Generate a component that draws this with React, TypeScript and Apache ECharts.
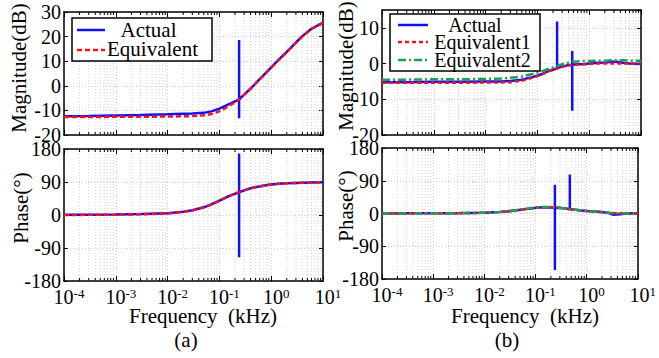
import React, { useEffect, useRef } from "react";
import * as echarts from "echarts";

const FONT = "Liberation Serif";

// ---------- data (kHz, dB, degrees) ----------
// (a) Actual, magnitude, including the spike at 0.24 kHz
const freqActA = [1e-4, 3e-4, 1e-3, 3e-3, 0.01, 0.02, 0.03, 0.05, 0.07, 0.1, 0.13, 0.17, 0.24, 0.24, 0.24, 0.24, 0.3, 0.4, 0.55, 0.7, 1, 1.4, 2, 3, 4, 6, 10];
const magActA = [-12.4, -12.3, -12.1, -11.9, -11.6, -11.4, -11.3, -11.0, -10.4, -9.3, -8.2, -7.0, -5.5, 18.6, -13.2, -5.5, -3.6, -1.1, 1.9, 4.1, 7.5, 10.6, 13.8, 17.6, 20.2, 23.2, 25.7];
const phActA = [0.4, 0.8, 1.5, 2.5, 4.6, 9, 13, 21, 29, 39, 47, 54, 62, 168, -115, 62, 67, 73, 77, 80, 83, 85, 86.5, 87.5, 88, 88.5, 89];

// (a) Equivalent
const freqEqA = [1e-4, 3e-4, 1e-3, 3e-3, 0.01, 0.02, 0.03, 0.05, 0.07, 0.1, 0.13, 0.17, 0.24, 0.3, 0.4, 0.55, 0.7, 1, 1.4, 2, 3, 4, 6, 10];
const magEqA = [-12.7, -12.7, -12.6, -12.6, -12.5, -12.4, -12.3, -12.0, -11.5, -10.4, -9.1, -7.6, -5.7, -3.7, -1.2, 1.8, 4.0, 7.4, 10.5, 13.7, 17.5, 20.1, 23.1, 25.6];
const phEqA = [0, 0.5, 1, 2, 4, 8.5, 12.5, 20.5, 28.5, 38.5, 46.5, 54, 62, 67, 73, 77, 80, 83, 85, 86.5, 87.5, 88, 88.5, 89];

// (b) Actual, with spikes at 0.24 kHz and 0.47 kHz
const freqActBMag = [1e-4, 3e-4, 1e-3, 3e-3, 0.01, 0.02, 0.03, 0.05, 0.08, 0.12, 0.17, 0.24, 0.24, 0.24, 0.3, 0.38, 0.47, 0.47, 0.47, 0.47, 0.6, 0.8, 1, 1.5, 2, 2.7, 3.4, 4.5, 6, 10];
const magActB = [-5.2, -5.2, -5.1, -5.1, -5.0, -5.0, -4.9, -4.5, -3.8, -3.0, -2.0, -1.3, 11.8, -1.3, -0.8, -0.5, -0.3, 3.5, -13.2, -0.3, -0.2, -0.1, 0, 0.2, 0.3, 0.5, 0.5, 0.2, 0, -0.1];
const freqActBPh = [1e-4, 3e-4, 1e-3, 3e-3, 0.01, 0.02, 0.03, 0.05, 0.08, 0.12, 0.17, 0.24, 0.24, 0.24, 0.24, 0.3, 0.38, 0.47, 0.47, 0.47, 0.6, 0.8, 1, 1.5, 2, 2.7, 3.4, 4.5, 6, 10];
const phActB = [0.3, 0.4, 0.6, 1, 2, 4, 6, 10, 14, 16.5, 17.5, 16, 79, -155, 16, 15, 13.5, 12, 107, 12, 10.5, 8.5, 7, 5.5, 4, 1, -3.5, -2, 0, 0.5];

// (b) Equivalent1 / Equivalent2
const freqEqB = [1e-4, 3e-4, 1e-3, 3e-3, 0.01, 0.02, 0.03, 0.05, 0.08, 0.12, 0.17, 0.24, 0.3, 0.38, 0.47, 0.6, 0.8, 1, 1.5, 2, 2.7, 3.4, 4.5, 6, 10];
const magEq1B = [-5.4, -5.4, -5.4, -5.4, -5.3, -5.3, -5.2, -4.8, -4.0, -3.1, -2.1, -1.4, -0.9, -0.6, -0.4, -0.3, -0.2, -0.1, 0, 0, 0, 0, 0, 0, 0];
const magEq2B = [-4.5, -4.5, -4.4, -4.4, -4.3, -4.2, -4.0, -3.6, -2.9, -2.2, -1.4, -0.7, -0.2, 0.2, 0.5, 0.6, 0.7, 0.7, 0.8, 0.8, 0.9, 0.9, 0.9, 0.8, 0.8];
const phEq1B = [0, 0.2, 0.5, 1, 2, 4, 6, 10, 14, 17, 18, 17, 15.5, 13.5, 12, 10.5, 8.5, 7, 5, 3.5, 2, 1, 0.5, 0.3, 0];
const phEq2B = [0, 0.2, 0.5, 1, 2, 4, 6.5, 10.5, 14.5, 17.5, 18, 17, 15.5, 13.5, 12, 10.5, 8.5, 7, 5, 3.5, 2, 1, 0.5, 0.3, 0];

// axis ticks
const decades = [1e-4, 1e-3, 1e-2, 1e-1, 1, 10];
const minorMultipliers = [2, 3, 4, 5, 6, 7, 8, 9];
const magTicksA = [-20, -10, 0, 10, 20, 30];
const magTicksB = [-20, -10, 0, 10];
const phaseTicks = [-180, -90, 0, 90, 180];

const legendA = ["Actual", "Equivalent"];
const legendB = ["Actual", "Equivalent1", "Equivalent2"];

const BLUE = "#1010ff";
const RED = "#ff1010";
const GREEN = "#1fa050";
const LW = 2.5;

const zip = (xs: number[], ys: number[]) => xs.map((x, i) => [x, ys[i]]);

export default function App() {
  const ref = useRef<HTMLDivElement>(null);
  useEffect(() => {
    if (!ref.current) return;
    const chart = echarts.init(ref.current, undefined, { renderer: "svg" });

    const minorFreqs: number[] = [];
    decades.slice(0, -1).forEach((d) => minorMultipliers.forEach((m) => minorFreqs.push(+(d * m).toPrecision(3))));

    const grids = [
      { left: 64, top: 12, width: 259, height: 123, ticks: magTicksA, interval: 10, xLabels: false },
      { left: 382, top: 10, width: 259, height: 125, ticks: magTicksB, max: 15, interval: 10, xLabels: false },
      { left: 64, top: 149, width: 259, height: 132, ticks: phaseTicks, interval: 90, xLabels: true },
      { left: 382, top: 148, width: 259, height: 131, ticks: phaseTicks, interval: 90, xLabels: true },
    ];

    const xAxes: any[] = [];
    const yAxes: any[] = [];
    const series: any[] = [];

    grids.forEach((g: any, i) => {
      const ymin = g.ticks[0];
      const ymax = g.max ?? g.ticks[g.ticks.length - 1];
      const xBase = {
        type: "log",
        logBase: 10,
        min: decades[0],
        max: decades[decades.length - 1],
        gridIndex: i,
        axisLine: { show: true, onZero: false, lineStyle: { color: "#000", width: 1.5 } },
        axisTick: { show: true, inside: true, length: 5, lineStyle: { color: "#000", width: 1 } },
      };
      xAxes.push({
        ...xBase,
        position: "bottom",
        splitLine: { show: true, lineStyle: { color: "#cfcfcf", type: [1, 2], width: 1 } },
        axisLabel: {
          show: g.xLabels,
          margin: 6,
          padding: [0, 0, 0, 10],
          formatter: (v: number) => `{b|10}{s|${Math.round(Math.log10(v))}}`,
          rich: {
            b: { fontSize: 20, fontFamily: FONT, color: "#000" },
            s: { fontSize: 13, fontFamily: FONT, color: "#000", verticalAlign: "top" },
          },
        },
      });
      xAxes.push({ ...xBase, position: "top", splitLine: { show: false }, axisLabel: { show: false } });
      const yBase = {
        type: "value",
        min: ymin,
        max: ymax,
        interval: g.interval,
        gridIndex: i,
        axisLine: { show: true, onZero: false, lineStyle: { color: "#000", width: 1.5 } },
        axisTick: { show: true, inside: true, length: 4, lineStyle: { color: "#000", width: 1 } },
      };
      yAxes.push({
        ...yBase,
        position: "left",
        splitLine: { show: true, lineStyle: { color: "#cfcfcf", type: [1, 2], width: 1 } },
        axisLabel: { show: true, margin: 3, fontSize: 20, fontFamily: FONT, color: "#000", showMaxLabel: g.max == null },
      });
      yAxes.push({ ...yBase, position: "right", splitLine: { show: false }, axisLabel: { show: false } });

      series.push({
        type: "custom",
        xAxisIndex: 2 * i,
        yAxisIndex: 2 * i,
        silent: true,
        data: minorFreqs.map((f) => [f, ymin]),
        encode: { x: 0, y: 1 },
        renderItem: (_p: any, api: any) => {
          const f = api.value(0);
          const pb = api.coord([f, ymin]);
          const pt = api.coord([f, ymax]);
          return {
            type: "group",
            children: [
              { type: "line", shape: { x1: pb[0], y1: pb[1], x2: pt[0], y2: pt[1] }, style: { stroke: "#d4d4d4", lineWidth: 1, lineDash: [1, 2] } },
              { type: "line", shape: { x1: pb[0], y1: pb[1], x2: pb[0], y2: pb[1] - 3 }, style: { stroke: "#000", lineWidth: 1 } },
              { type: "line", shape: { x1: pt[0], y1: pt[1], x2: pt[0], y2: pt[1] + 3 }, style: { stroke: "#000", lineWidth: 1 } },
            ],
          };
        },
      });
    });

    const line = (name: string, grid: number, data: number[][], color: string, type: any) => ({
      name,
      type: "line",
      xAxisIndex: 2 * grid,
      yAxisIndex: 2 * grid,
      data,
      showSymbol: false,
      symbol: "none",
      lineStyle: { color, width: LW, type },
      z: 3,
    });

    series.push(line("Actual", 0, zip(freqActA, magActA), BLUE, "solid"));
    series.push(line("Equivalent", 0, zip(freqEqA, magEqA), RED, [5, 3]));
    series.push(line("Actual", 2, zip(freqActA, phActA), BLUE, "solid"));
    series.push(line("Equivalent", 2, zip(freqEqA, phEqA), RED, [5, 3]));
    series.push(line("Actual", 1, zip(freqActBMag, magActB), BLUE, "solid"));
    series.push(line("Equivalent1", 1, zip(freqEqB, magEq1B), RED, [4, 3]));
    series.push(line("Equivalent2", 1, zip(freqEqB, magEq2B), GREEN, [8, 3, 2, 3]));
    series.push(line("Actual", 3, zip(freqActBPh, phActB), BLUE, "solid"));
    series.push(line("Equivalent1", 3, zip(freqEqB, phEq1B), RED, [4, 3]));
    series.push(line("Equivalent2", 3, zip(freqEqB, phEq2B), GREEN, [8, 3, 2, 3]));

    const txt = (text: string, x: number, y: number, size: number, rot = 0, align = "center") => ({
      type: "text",
      x,
      y,
      rotation: rot,
      z: 100,
      style: { text, fontSize: size, fontFamily: FONT, fill: "#000", align, verticalAlign: "middle" },
    });
    const sample = (x1: number, x2: number, y: number, color: string, dash: any) => ({
      type: "line",
      z: 101,
      shape: { x1, y1: y, x2, y2: y },
      style: { stroke: color, lineWidth: LW, lineDash: dash },
    });

    const graphic: any[] = [
      // legend (a)
      { type: "rect", z: 99, shape: { x: 72, y: 18, width: 140, height: 43 }, style: { fill: "#fff", stroke: "#000", lineWidth: 1.5 } },
      sample(77, 105, 30, BLUE, null),
      sample(77, 105, 50, RED, [5, 3]),
      txt(legendA[0], 148.5, 30, 21),
      txt(legendA[1], 152.5, 49, 21),
      // legend (b)
      { type: "rect", z: 99, shape: { x: 390, y: 14, width: 150, height: 57 }, style: { fill: "#fff", stroke: "#000", lineWidth: 1.5 } },
      sample(398, 428, 25, BLUE, null),
      sample(398, 428, 42, RED, [4, 3]),
      sample(398, 428, 60, GREEN, [8, 3, 2, 3]),
      txt(legendB[0], 475, 25, 20),
      txt(legendB[1], 482.5, 42, 20),
      txt(legendB[2], 482.5, 60, 20),
      // axis names
      txt("Magnitude(dB)", 19, 68, 21, Math.PI / 2),
      txt("Magnitude(dB)", 346, 66, 21, Math.PI / 2),
      txt("Phase(°)", 21, 208, 21, Math.PI / 2),
      txt("Phase(°)", 346, 206, 21, Math.PI / 2),
      txt("Frequency  (kHz)", 203, 316, 21),
      txt("Frequency  (kHz)", 525, 316, 21),
      txt("(a)", 186, 340, 21),
      txt("(b)", 507, 340, 21),
    ];

    chart.setOption({
      animation: false,
      backgroundColor: "#fff",
      grid: grids.map((g) => ({ left: g.left, top: g.top, width: g.width, height: g.height, containLabel: false })),
      xAxis: xAxes,
      yAxis: yAxes,
      series,
      graphic,
    });
    return () => chart.dispose();
  }, []);
  return <div ref={ref} style={{ position: "fixed", left: 0, top: 0, width: 659, height: 358 }} />;
}
